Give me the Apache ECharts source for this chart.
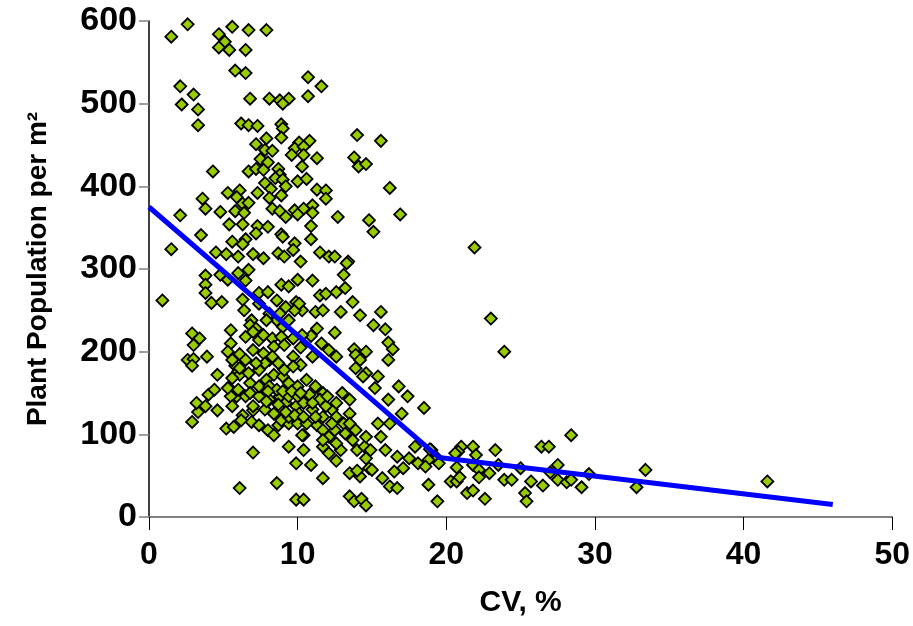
<!DOCTYPE html>
<html>
<head>
<meta charset="utf-8">
<script src="https://cdn.jsdelivr.net/npm/echarts@6/dist/echarts.min.js"></script>
<style>
  html, body { margin: 0; padding: 0; background: #fff; }
  #chart { width: 913px; height: 626px; }
</style>
</head>
<body>
<div id="chart"></div>
<script>
// scatter points: CV (%) and plant population per m2
var cv = [
  1.5, 2.6, 4.7, 5.6, 6.7, 7.9, 5.1, 4.7, 5.4, 6.5, 5.8, 6.5, 10.7, 11.6, 2.1, 3.0, 2.2, 3.3, 3.3, 6.8,
  8.1, 8.8, 9.4, 10.7, 9.0, 6.2, 6.7, 7.3, 8.9, 9.0, 14.0, 15.6, 7.9, 7.2, 8.9, 10.8, 10.1, 7.8, 8.3, 9.8,
  10.4, 9.6, 10.4, 11.3, 7.5, 8.0, 13.8, 14.1, 14.6, 10.3, 4.3, 6.7, 7.2, 7.7, 8.7, 8.8, 7.8, 8.5, 9.0, 10.0,
  10.6, 9.2, 8.2, 7.3, 5.3, 6.1, 5.9, 8.1, 8.9, 11.3, 11.9, 11.9, 16.2, 3.6, 3.8, 2.1, 4.8, 5.8, 6.3, 6.7,
  6.4, 8.3, 8.8, 9.2, 9.8, 10.4, 11.0, 11.0, 10.0, 12.7, 14.8, 15.1, 16.9, 5.4, 6.3, 7.3, 8.0, 8.9, 9.0, 9.8,
  10.9, 10.9, 3.5, 1.5, 5.6, 6.5, 6.3, 7.2, 4.5, 5.2, 6.0, 7.0, 7.7, 8.7, 9.1, 9.7, 10.2, 11.5, 12.1, 12.5,
  13.4,
  0.9, 3.8, 3.8, 3.8, 4.8, 5.3, 6.0, 6.7, 6.5, 4.2, 4.9, 6.3, 7.4, 8.0, 8.6, 8.9, 9.4, 10.0, 9.9, 10.3,
  11.0, 11.5, 11.9, 12.6, 13.1, 13.3, 13.2, 13.7, 12.9, 11.2, 11.7, 14.2, 15.6, 15.1, 15.9, 12.5, 11.3, 10.9, 11.6, 10.2,
  9.7, 10.2, 11.0, 12.1, 12.6, 13.8, 13.9, 14.6, 14.2, 13.9, 14.6, 14.4, 15.4, 15.2, 16.1, 16.4, 16.1, 16.8, 17.4, 16.1,
  18.5, 17.0, 16.2, 17.9, 19.4, 18.8, 16.7, 17.5, 18.1, 18.6, 17.1, 16.5, 15.7, 16.2, 16.7, 18.8, 19.4, 14.8, 14.2, 13.5,
  14.0, 13.5, 13.8, 14.3, 14.6, 12.6, 11.7, 10.9, 9.9, 8.6, 6.1, 7.0, 9.4, 10.4, 9.9, 10.4, 2.9, 3.3, 3.2, 4.6,
  3.8, 4.0, 4.4, 4.6, 2.9, 3.4, 3.0, 2.6, 3.0, 3.9, 2.9, 5.2, 5.7, 5.5, 6.1, 5.8, 6.0, 5.4, 5.9, 6.3,
  7.0, 6.9, 7.4, 8.0, 8.4, 8.7, 9.4, 10.0, 10.4, 11.3, 11.7, 12.1, 12.5, 13.1, 13.7, 14.0, 14.5, 14.9, 15.4, 15.6,
  15.9, 14.6, 15.0, 12.9, 11.7, 12.1,
  5.5, 5.3, 5.6, 6.1, 5.5, 5.6, 6.2, 6.5, 6.8, 6.7, 6.5, 6.9, 6.4,
  6.8, 7.2, 7.4, 7.0, 6.5, 6.1, 5.6, 5.3, 6.0, 7.7, 8.1, 7.4, 7.9, 8.4, 9.0, 9.4, 10.0, 10.6, 11.2, 11.7,
  6.8, 7.4, 8.1, 8.8, 9.2, 9.9, 10.4, 11.0, 11.7, 12.3, 7.0, 7.8, 8.4, 8.9, 9.4, 10.1, 8.1, 8.6, 9.0, 9.4,
  9.8, 9.2, 8.8, 10.1, 7.4, 7.9, 7.0, 7.7, 8.3, 8.9, 8.4, 12.6, 13.0, 13.5, 13.5, 12.6, 13.2, 13.9, 14.6, 7.4,
  8.1, 8.6, 9.4, 10.0, 10.8, 11.5, 11.9, 11.2, 10.6, 11.7, 12.6, 9.1, 9.7, 10.3, 9.7, 9.1, 8.7, 8.3, 7.8, 7.2,
  8.0, 9.0, 9.6, 10.2, 7.9, 8.7, 9.2, 9.8, 10.4, 11.0, 12.0, 12.3, 13.5, 10.3,
  21.9, 23.0, 23.9, 28.4, 19.0, 21.0, 21.8, 20.8, 22.0, 23.3, 26.4, 26.9, 19.5, 20.7, 21.8, 22.2, 22.9, 23.5, 25.0, 27.5,
  27.0, 29.6, 20.3, 20.7, 20.9, 23.9, 24.4, 25.7, 26.5, 27.5, 28.1, 28.4, 29.1, 21.4, 21.8, 22.6, 25.3, 25.4, 22.2, 18.9,
  20.6, 33.4, 32.8, 41.6
];
var pop = [
  581, 596, 584, 593, 589, 589, 575, 568, 565, 565, 540, 537, 532, 521, 521, 511, 499, 493, 474, 506,
  506, 504, 506, 509, 500, 476, 474, 473, 475, 470, 462, 455, 458, 451, 459, 455, 453, 444, 443, 446,
  448, 438, 438, 434, 433, 429, 435, 424, 427, 424, 418, 418, 421, 420, 421, 414, 404, 410, 408, 406,
  409, 400, 397, 392, 392, 395, 387, 386, 389, 396, 395, 385, 398, 385, 373, 365, 369, 370, 379, 380,
  368, 373, 370, 363, 371, 373, 377, 368, 366, 363, 359, 345, 366, 354, 354, 352, 351, 342, 339, 331,
  352, 336, 341, 324, 333, 336, 330, 343, 320, 318, 315, 318, 313, 319, 315, 323, 309, 320, 315, 315,
  309,
  262, 292, 281, 271, 293, 287, 295, 299, 286, 259, 260, 263, 271, 272, 262, 281, 279, 287, 260, 250,
  286, 268, 270, 272, 293, 307, 277, 260, 248, 248, 250, 244, 248, 232, 227, 223, 228, 219, 210, 205,
  194, 184, 194, 202, 194, 203, 196, 200, 190, 180, 174, 170, 170, 156, 211, 203, 190, 158, 146, 142,
  132, 125, 113, 85, 71, 69, 73, 71, 65, 61, 59, 55, 47, 37, 35, 39, 19, 59, 49, 53,
  56, 25, 19, 22, 14, 68, 47, 63, 65, 41, 35, 78, 85, 81, 21, 21, 115, 127, 138, 129,
  134, 148, 154, 172, 222, 216, 208, 190, 191, 194, 183, 107, 109, 210, 197, 183, 176, 156, 146, 123,
  129, 115, 111, 105, 99, 111, 113, 113, 99, 111, 105, 97, 105, 113, 93, 81, 85, 81, 113, 97,
  81, 71, 57, 81, 85, 77,
  226, 200, 190, 172, 146, 134, 117, 146, 162, 174, 218, 238, 250,
  232, 228, 214, 202, 190, 180, 168, 156, 154, 198, 190, 178, 166, 172, 170, 162, 158, 166, 158, 150,
  150, 146, 142, 146, 138, 134, 138, 130, 121, 130, 134, 130, 125, 117, 121, 125, 246, 238, 230, 238,
  250, 254, 246, 258, 258, 238, 224, 220, 216, 218, 206, 138, 150, 142, 125, 121, 101, 105, 97, 158,
  158, 154, 146, 146, 148, 142, 134, 121, 113, 93, 89, 208, 216, 220, 182, 178, 186, 194, 186, 186,
  152, 152, 152, 150, 140, 136, 127, 123, 121, 138, 146, 113, 113, 99,
  326, 240, 200, 99, 81, 85, 85, 79, 75, 81, 85, 85, 65, 60, 63, 57, 53, 63, 59, 63,
  54, 52, 43, 43, 48, 45, 45, 43, 38, 45, 42, 45, 36, 29, 32, 22, 29, 19, 48, 82,
  77, 57, 36, 43
];

// fitted broken-line trend
var fitCV = [0, 19.5, 46];
var fitPop = [375, 72, 15];

var xTicks = [0, 10, 20, 30, 40, 50];
var yTicks = [0, 100, 200, 300, 400, 500, 600];

var points = cv.map(function (v, i) { return [v, pop[i]]; });
var fitLine = fitCV.map(function (v, i) { return [v, fitPop[i]]; });

var chart = echarts.init(document.getElementById('chart'));
var option = {
  animation: false,
  backgroundColor: '#ffffff',
  grid: { left: 149, right: 17, top: 21, bottom: 109, containLabel: false },
  xAxis: {
    type: 'value',
    min: xTicks[0],
    max: xTicks[xTicks.length - 1],
    interval: 10,
    name: 'CV, %',
    nameLocation: 'middle',
    nameGap: 71,
    nameTextStyle: { color: '#000', fontSize: 30, fontWeight: 'bold', fontFamily: 'Liberation Sans' },
    axisLine: { onZero: false, lineStyle: { color: '#808080', width: 2 } },
    axisTick: { show: true, inside: false, length: 13, lineStyle: { color: '#000', width: 1 } },
    axisLabel: { margin: 22, color: '#000', fontSize: 32, fontWeight: 'bold', fontFamily: 'Liberation Sans' },
    splitLine: { show: false }
  },
  yAxis: {
    type: 'value',
    min: yTicks[0],
    max: yTicks[yTicks.length - 1],
    interval: 100,
    name: 'Plant Population per m²',
    nameLocation: 'middle',
    nameGap: 97,
    nameTextStyle: { color: '#000', fontSize: 28, fontWeight: 'bold', fontFamily: 'Liberation Sans' },
    axisLine: { show: true, lineStyle: { color: '#000', width: 1.5 } },
    axisTick: { show: true, length: 10, lineStyle: { color: '#808080', width: 1.5 } },
    axisLabel: { margin: 12, color: '#000', fontSize: 34, fontWeight: 'bold', fontFamily: 'Liberation Sans' },
    splitLine: { show: false }
  },
  series: [
    {
      name: 'observed',
      type: 'scatter',
      symbol: 'diamond',
      symbolSize: 12,
      itemStyle: { color: '#99cc00', borderColor: '#000', borderWidth: 1.8, opacity: 1 },
      data: points,
      z: 2
    },
    {
      name: 'trend',
      type: 'line',
      showSymbol: false,
      symbol: 'none',
      lineStyle: { color: '#0000ff', width: 5 },
      data: fitLine,
      z: 3
    }
  ]
};
chart.setOption(option);
</script>
</body>
</html>
